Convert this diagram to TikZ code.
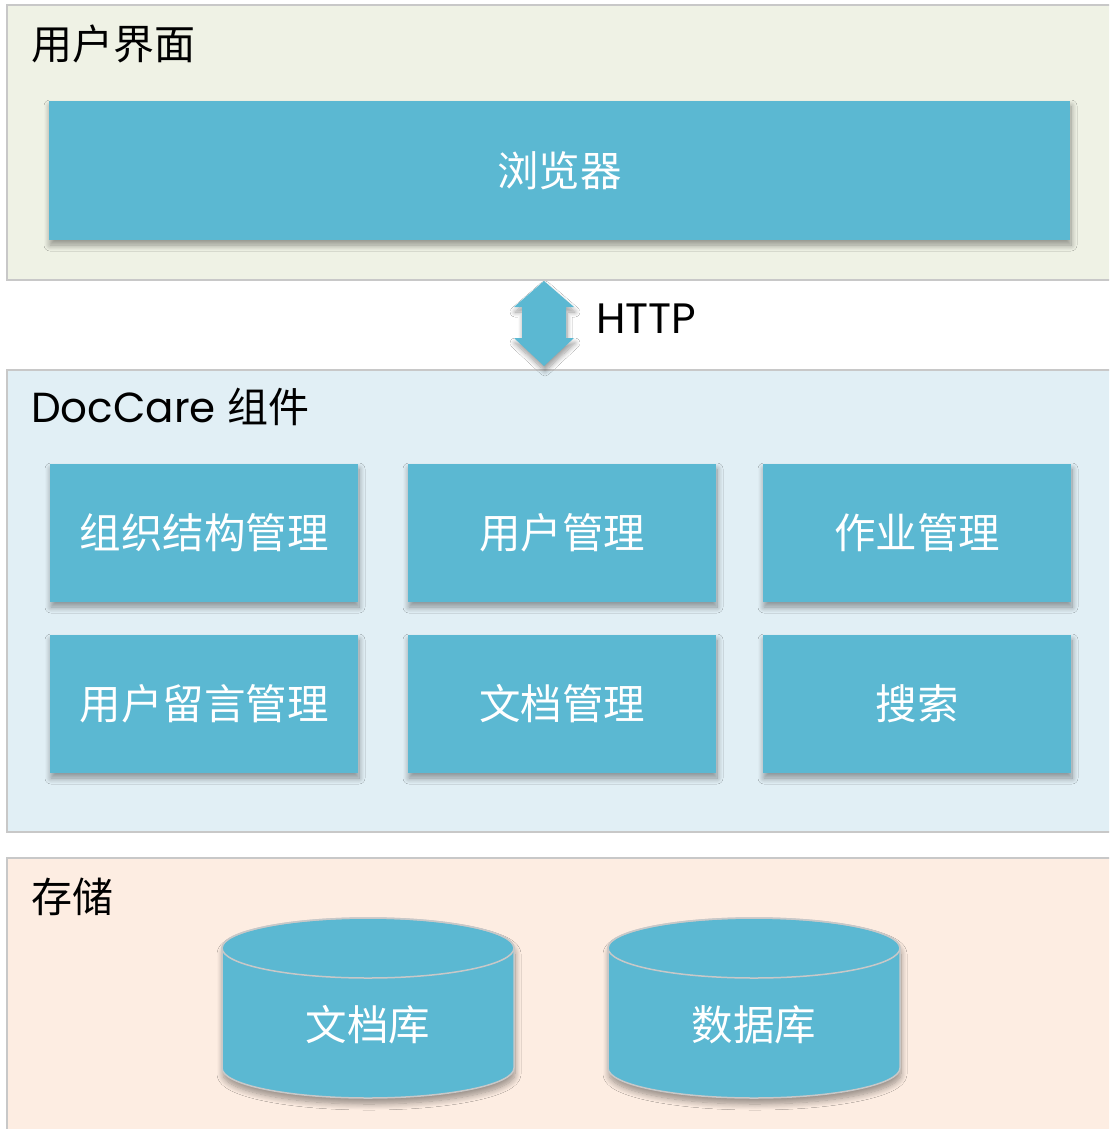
\documentclass[tikz,border=0pt]{standalone}
\usepackage{fontspec}
\setmainfont{Poppins}
\newfontfamily\cjk{Noto Sans CJK SC}
\usetikzlibrary{shadows.blur}
\definecolor{boxblue}{RGB}{91,184,210}
\definecolor{panelgreen}{RGB}{239,242,229}
\definecolor{panelblue}{RGB}{225,239,245}
\definecolor{panelpeach}{RGB}{253,237,226}
\definecolor{bordergray}{RGB}{200,200,200}
\tikzset{
  panel/.style={draw=bordergray, line width=2pt},
  paneltitle/.style={anchor=west, inner sep=0pt, font=\fontsize{41}{43}\selectfont, text=black},
  modbox/.style={fill=boxblue, draw=none, inner sep=0pt, text=white,
    font=\cjk\fontsize{41.5}{44}\selectfont,
    blur shadow={shadow xshift=1pt, shadow yshift=-5pt, shadow blur radius=6pt, shadow blur steps=10, shadow opacity=40}},
  dbshape/.style={fill=boxblue, draw=bordergray, line width=1.5pt,
    blur shadow={shadow xshift=1pt, shadow yshift=-6pt, shadow blur radius=6pt, shadow blur steps=10, shadow opacity=40}},
  dblabel/.style={text=white, font=\cjk\fontsize{41.5}{44}\selectfont, inner sep=0pt},
}
\begin{document}
\begin{tikzpicture}[x=1pt,y=1pt]
\useasboundingbox (0,0) rectangle (1109,-1129);
\clip (0,0) rectangle (1109,-1129);
\fill[white] (0,0) rectangle (1109,-1129);
% panels
\draw[panel, fill=panelgreen] (7,-5) rectangle (1120,-280);
\draw[panel, fill=panelblue] (7,-370) rectangle (1120,-832);
\draw[panel, fill=panelpeach] (7,-858) rectangle (1120,-1140);
% titles
\node[paneltitle] (t1) at (31,-44) {\cjk 用户界面};
\node[paneltitle] (t2) at (31,-407) {\fontsize{42}{44}\selectfont DocCare {\cjk\fontsize{41}{43}\selectfont 组件}};
\node[paneltitle] (t3) at (31,-897) {\cjk 存储};
% browser
\node[modbox, minimum width=1021pt, minimum height=139pt] (browser) at (559.5,-170.5) {浏览器};
% modules
\node[modbox, minimum width=308pt, minimum height=138pt] (m1) at (204,-533) {组织结构管理};
\node[modbox, minimum width=308pt, minimum height=138pt] (m2) at (562,-533) {用户管理};
\node[modbox, minimum width=308pt, minimum height=138pt] (m3) at (917,-533) {作业管理};
\node[modbox, minimum width=308pt, minimum height=138pt] (m4) at (204,-704) {用户留言管理};
\node[modbox, minimum width=308pt, minimum height=138pt] (m5) at (562,-704) {文档管理};
\node[modbox, minimum width=308pt, minimum height=138pt] (m6) at (917,-704) {搜索};
% HTTP arrow
\fill[boxblue, blur shadow={shadow xshift=1pt, shadow yshift=-5pt, shadow blur radius=5pt, shadow blur steps=10, shadow opacity=40}]
  (544,-281) -- (574,-307) -- (566,-307) -- (566,-338) -- (574,-338) -- (544,-366)
  -- (514,-338) -- (522,-338) -- (522,-307) -- (514,-307) -- cycle;
\node[anchor=west, inner sep=0pt, font=\fontsize{42.5}{44}\selectfont] (http) at (596,-319) {HTTP};
% cylinders
\foreach \cx/\nm/\lab in {368/db1/文档库, 754/db2/数据库}{
  \path[dbshape] (\cx-146,-948) -- (\cx-146,-1068) arc[start angle=180, end angle=360, x radius=146, y radius=30]
    -- (\cx+146,-948) arc[start angle=0, end angle=180, x radius=146, y radius=30] -- cycle;
  \draw[bordergray, line width=1.5pt] (\cx,-948) ellipse[x radius=146, y radius=30];
  \node[dblabel] (\nm) at (\cx,-1025) {\lab};
}
\end{tikzpicture}
\end{document}
